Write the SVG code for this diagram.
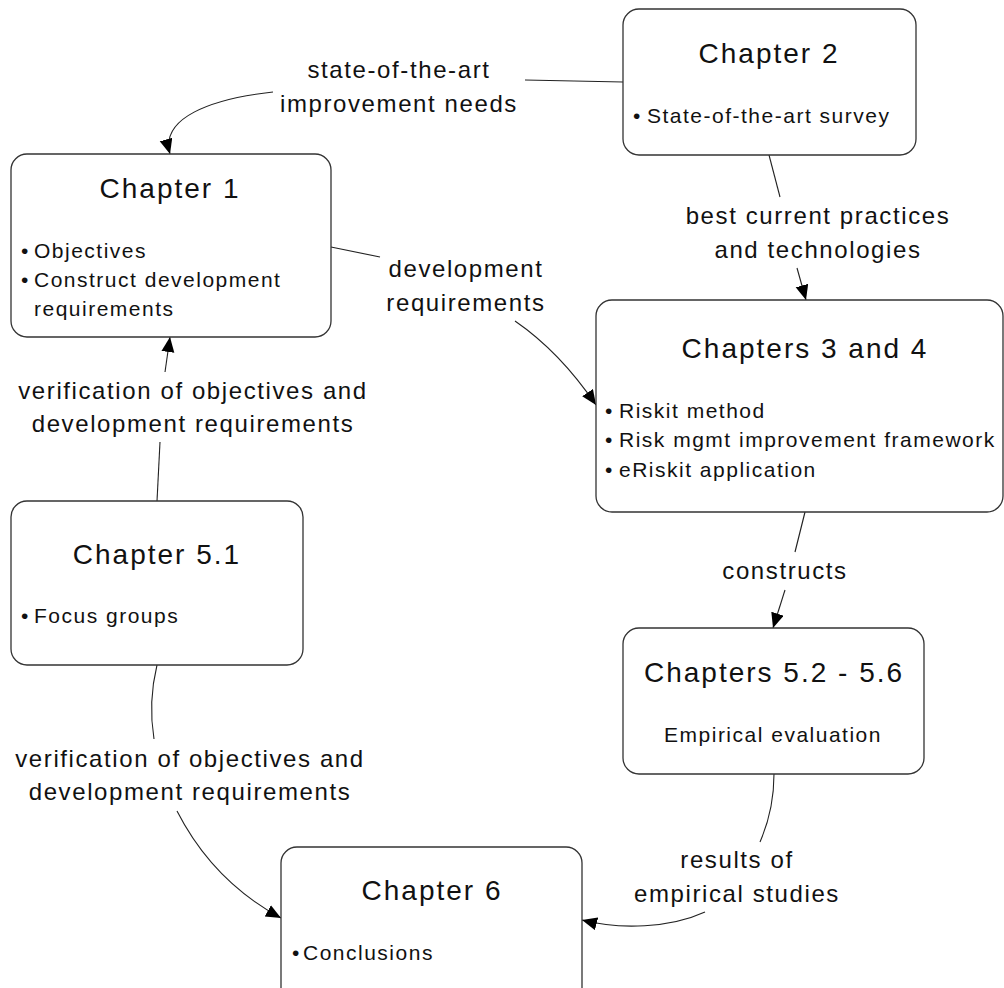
<svg xmlns="http://www.w3.org/2000/svg" width="1004" height="988" viewBox="0 0 1004 988">
  <style>
    .box { fill: #fff; stroke: #333; stroke-width: 1.3; }
    .title { font-family: "Liberation Sans", Arial, sans-serif; font-size: 28px; letter-spacing: 2px; fill: #111; text-anchor: middle; }
    .item { font-family: "Liberation Sans", Arial, sans-serif; font-size: 21px; letter-spacing: 1.5px; fill: #111; }
    .center { text-anchor: middle; }
    .label { font-family: "Liberation Sans", Arial, sans-serif; font-size: 24px; letter-spacing: 1.6px; fill: #111; text-anchor: middle; }
    .edge { fill: none; stroke: #222; stroke-width: 1.1; }
  </style>
  <defs>
    <marker id="arrow" markerUnits="userSpaceOnUse" markerWidth="16" markerHeight="14" refX="15" refY="6.5" orient="auto">
      <path d="M0,0 L15,6.5 L0,13 z" fill="#000"/>
    </marker>
  </defs>
  <rect width="1004" height="988" fill="#fff"/>

  <!-- connectors, split where their labels sit -->
  <g id="connectors">
    <!-- Chapter 2 to Chapter 1 -->
    <path class="edge" d="M623,82 L525,80"/>
    <path class="edge" d="M273,92 C210,99 160,118 170,154" marker-end="url(#arrow)"/>
    <text class="label" x="399" y="78">state-of-the-art</text>
    <text class="label" x="399" y="112">improvement needs</text>

    <!-- Chapter 1 to Chapters 3 and 4 -->
    <path class="edge" d="M331,247 L380,257"/>
    <path class="edge" d="M515,321 Q560,352 596,405" marker-end="url(#arrow)"/>
    <text class="label" x="466" y="277">development</text>
    <text class="label" x="466" y="311">requirements</text>

    <!-- Chapter 2 to Chapters 3 and 4 -->
    <path class="edge" d="M769,155 L780,197"/>
    <path class="edge" d="M797,268 L806,300" marker-end="url(#arrow)"/>
    <text class="label" x="818" y="224">best current practices</text>
    <text class="label" x="818" y="258">and technologies</text>

    <!-- Chapters 3 and 4 to Chapters 5.2 - 5.6 -->
    <path class="edge" d="M805,512 L795,552"/>
    <path class="edge" d="M785,590 L773,628" marker-end="url(#arrow)"/>
    <text class="label" x="785" y="579">constructs</text>

    <!-- Chapter 5.1 to Chapter 1 -->
    <path class="edge" d="M157,501 L160,442"/>
    <path class="edge" d="M165,372 L170,337" marker-end="url(#arrow)"/>
    <text class="label" x="193" y="399">verification of objectives and</text>
    <text class="label" x="193" y="432">development requirements</text>

    <!-- Chapter 5.1 to Chapter 6 -->
    <path class="edge" d="M157,665 Q148,702 154,739"/>
    <path class="edge" d="M177,811 C200,856 235,893 281,918" marker-end="url(#arrow)"/>
    <text class="label" x="190" y="767">verification of objectives and</text>
    <text class="label" x="190" y="800">development requirements</text>

    <!-- Chapters 5.2 - 5.6 to Chapter 6 -->
    <path class="edge" d="M774,774 Q774,810 760,842"/>
    <path class="edge" d="M705,912 C670,928 620,930 582,920" marker-end="url(#arrow)"/>
    <text class="label" x="737" y="868">results of</text>
    <text class="label" x="737" y="902">empirical studies</text>
  </g>

  <g id="chapter1">
    <rect class="box" x="11" y="154" width="320" height="183" rx="16"/>
    <text class="title" x="170" y="198">Chapter 1</text>
    <text class="item" x="21" y="258">•</text>
    <text class="item" x="34" y="258">Objectives</text>
    <text class="item" x="21" y="287">•</text>
    <text class="item" x="34" y="287">Construct development</text>
    <text class="item" x="34" y="316">requirements</text>
  </g>

  <g id="chapter2">
    <rect class="box" x="623" y="9" width="293" height="146" rx="16"/>
    <text class="title" x="769" y="63">Chapter 2</text>
    <text class="item" x="633" y="123">•</text>
    <text class="item" x="647" y="123">State-of-the-art survey</text>
  </g>

  <g id="chapters3and4">
    <rect class="box" x="596" y="300" width="407" height="212" rx="16"/>
    <text class="title" x="805" y="358">Chapters 3 and 4</text>
    <text class="item" x="605" y="418">•</text>
    <text class="item" x="619" y="418">Riskit method</text>
    <text class="item" x="605" y="447">•</text>
    <text class="item" x="619" y="447">Risk mgmt improvement framework</text>
    <text class="item" x="605" y="477">•</text>
    <text class="item" x="619" y="477">eRiskit application</text>
  </g>

  <g id="chapter5-1">
    <rect class="box" x="11" y="501" width="292" height="164" rx="16"/>
    <text class="title" x="157" y="564">Chapter 5.1</text>
    <text class="item" x="21" y="623">•</text>
    <text class="item" x="34" y="623">Focus groups</text>
  </g>

  <g id="chapters5-2to5-6">
    <rect class="box" x="623" y="628" width="301" height="146" rx="16"/>
    <text class="title" x="774" y="682">Chapters 5.2 - 5.6</text>
    <text class="item center" x="773" y="742">Empirical evaluation</text>
  </g>

  <g id="chapter6">
    <rect class="box" x="281" y="847" width="301" height="160" rx="16"/>
    <text class="title" x="432" y="900">Chapter 6</text>
    <text class="item" x="292" y="960">•</text>
    <text class="item" x="303" y="960">Conclusions</text>
  </g>
</svg>
